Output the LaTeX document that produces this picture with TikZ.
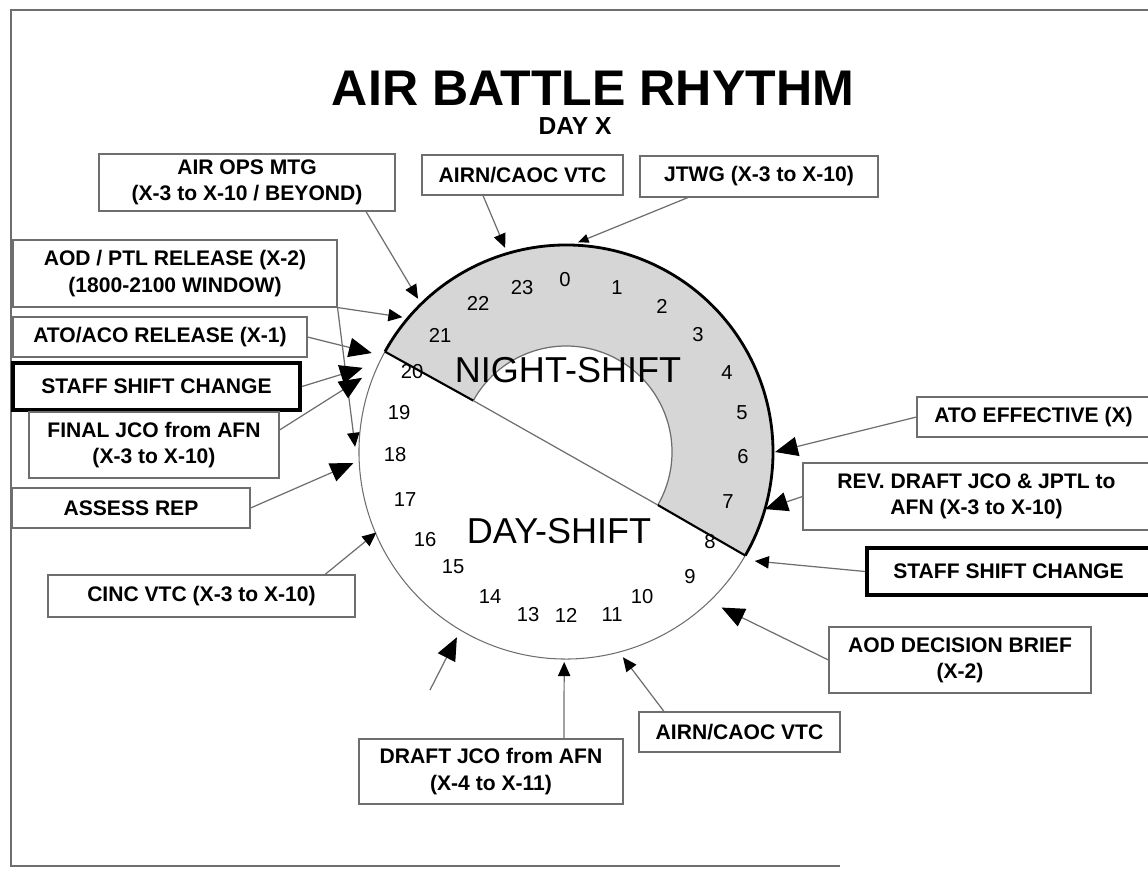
\documentclass[tikz,border=0pt]{standalone}
\usepackage{fontspec}
\setmainfont{Liberation Sans}
\usepackage{tikz}
\usetikzlibrary{arrows.meta, positioning, calc}
\definecolor{nightgray}{RGB}{214, 214, 214}
\definecolor{rimgray}{RGB}{110, 110, 110}

\tikzset{
    evbox/.style={draw=rimgray, line width=0.6pt, fill=white, align=center, inner sep=2pt,
        font=\bfseries\fontsize{12}{15}\selectfont},
    shiftbox/.style={evbox, draw=black, line width=2.2pt},
    link/.style={draw=rimgray, line width=0.7pt},
    bighead/.style={link, -{Triangle[length=13pt, width=11pt, color=black]}},
    midhead/.style={link, -{Triangle[length=8pt, width=7pt, color=black]}},
    smallhead/.style={link, -{Triangle[length=6pt, width=5pt, color=black]}},
    hour/.style={font=\fontsize{11.5}{13}\selectfont},
    shiftlabel/.style={font=\fontsize{20.5}{24}\selectfont}
}

\begin{document}
\begin{tikzpicture}[x=0.2mm, y=-0.2mm]
    \useasboundingbox (0,0) rectangle (1148,871);
    \clip (0,0) rectangle (1148,871);

    % page frame
    \draw[rimgray, line width=0.7pt] (1148,10) -- (11,10) -- (11,866) -- (840,866);

    % heading
    \node (title) at (593,88) {\bfseries\fontsize{28.5}{32}\selectfont AIR BATTLE RHYTHM};
    \node (dayx) at (575,126) {\bfseries\fontsize{14}{16}\selectfont DAY X};

    % 24 hour dial, polar coordinates (angle:radius) around its centre
    \begin{scope}[shift={(566,452)}, x=0.2mm, y=0.2mm]
        \fill[nightgray] (151:207) arc[start angle=151, end angle=-30, radius=207]
            -- (-30:106) arc[start angle=-30, end angle=151, radius=106] -- cycle;
        \draw[rimgray, line width=0.6pt] (151:207) arc[start angle=151, end angle=330, radius=207];
        \draw[black, line width=1.6pt] (151:207) arc[start angle=151, end angle=-30, radius=207];
        \draw[rimgray, line width=0.7pt] (151:106) arc[start angle=151, end angle=-30, radius=106];
        \draw[black, line width=1.2pt] (151:207) -- (151:106);
        \draw[black, line width=1.2pt] (-30:106) -- (-30:207);
        \draw[rimgray, line width=0.7pt] (151:106) -- (-30:106);

        % where the pointers hit the dial
        \coordinate (tOps) at (134:213);
        \coordinate (tVtcTop) at (106.6:213);
        \coordinate (tJtwg) at (86.7:210);
        \coordinate (tPtlA) at (140.5:212);
        \coordinate (tPtlB) at (178.6:211);
        \coordinate (tAtoAco) at (153:218);
        \coordinate (tShiftL) at (157.5:220);
        \coordinate (tFinal) at (160:217);
        \coordinate (tAssess) at (183:213);
        \coordinate (tCinc) at (203:206);
        \coordinate (tLoose) at (239.5:215);
        \coordinate (tDraft) at (269.5:210);
        \coordinate (tVtcBot) at (285.5:213);
        \coordinate (tAodDec) at (315:220);
        \coordinate (tShiftR) at (330:218);
        \coordinate (tRev) at (344:207);
        \coordinate (tAtoEff) at (0:209);
    \end{scope}

    % hours
    \foreach \h/\hx/\hy in {0/565/280, 1/617/288, 2/662/306, 3/698/335, 4/727/373, 5/742/413,
        6/743/457, 7/728/502, 8/710/542, 9/690/577, 10/642/597, 11/612/615, 12/566/615,
        13/528/615, 14/490/597, 15/453/567, 16/425/540, 17/405/500, 18/395/455,
        19/399/413, 20/412/372, 21/440/335, 22/478/303, 23/522/288}
        \node[hour] (h\h) at (\hx,\hy) {\h};

    \node[shiftlabel] (night) at (568,370) {NIGHT-SHIFT};
    \node[shiftlabel] (day) at (559,531) {DAY-SHIFT};

    % event boxes
    \node[evbox, minimum width=59.2mm, minimum height=11.4mm] (opsmtg) at (247,182.5) {AIR OPS MTG\\(X-3 to X-10 / BEYOND)};
    \node[evbox, minimum width=40.2mm, minimum height=8mm] (vtctop) at (522.5,175) {AIRN/CAOC VTC};
    \node[evbox, minimum width=47.6mm, minimum height=8.2mm] (jtwg) at (759,176.5) {JTWG (X-3 to X-10)};
    \node[evbox, minimum width=64.8mm, minimum height=13.4mm] (aodptl) at (175,273.5) {AOD / PTL RELEASE (X-2)\\(1800-2100 WINDOW)};
    \node[evbox, minimum width=58.8mm, minimum height=8mm] (atoaco) at (160,337) {ATO/ACO RELEASE (X-1)};
    \node[shiftbox, minimum width=57.4mm, minimum height=9.4mm] (shiftL) at (156.5,386.5) {STAFF SHIFT CHANGE};
    \node[evbox, minimum width=50mm, minimum height=13.2mm] (finaljco) at (154,445) {FINAL JCO from AFN\\(X-3 to X-10)};
    \node[evbox, minimum width=47.6mm, minimum height=8mm] (assess) at (131,508) {ASSESS REP};
    \node[evbox, minimum width=61.4mm, minimum height=8.4mm] (cinc) at (201.5,596) {CINC VTC (X-3 to X-10)};
    \node[evbox, minimum width=46.6mm, minimum height=8mm] (atoeff) at (1033.5,417) {ATO EFFECTIVE (X)};
    \node[evbox, minimum width=69.4mm, minimum height=13.4mm] (revdraft) at (976.5,496.5) {REV. DRAFT JCO \& JPTL to\\AFN (X-3 to X-10)};
    \node[shiftbox, minimum width=56.6mm, minimum height=9.4mm] (shiftR) at (1008.5,571.5) {STAFF SHIFT CHANGE};
    \node[evbox, minimum width=52.4mm, minimum height=13.2mm] (aoddec) at (960,660) {AOD DECISION BRIEF\\(X-2)};
    \node[evbox, minimum width=40.2mm, minimum height=8mm] (vtcbot) at (739.5,732) {AIRN/CAOC VTC};
    \node[evbox, minimum width=52.8mm, minimum height=13mm] (draftjco) at (491,771.5) {DRAFT JCO from AFN\\(X-4 to X-11)};
    \coordinate (loose) at (430,690);

    % pointers
    \draw[midhead] ([xshift=23.8mm]opsmtg.south) -- (tOps);
    \draw[midhead] ([xshift=-7.9mm]vtctop.south) -- (tVtcTop);
    \draw[smallhead] ([xshift=-14.2mm]jtwg.south) -- (tJtwg);
    \draw[midhead] (aodptl.south east) -- (tPtlA);
    \draw[midhead] (aodptl.south east) -- (tPtlB);
    \draw[bighead] (atoaco.east) -- (tAtoAco);
    \draw[bighead] (shiftL.east) -- (tShiftL);
    \draw[bighead] ([yshift=3mm]finaljco.east) -- (tFinal);
    \draw[bighead] (assess.east) -- (tAssess);
    \draw[midhead] ([xshift=24.7mm]cinc.north) -- (tCinc);
    \draw[bighead] (loose) -- (tLoose);
    \draw[midhead] ([xshift=14.6mm]draftjco.north) -- (tDraft);
    \draw[midhead] ([xshift=-15.1mm]vtcbot.north) -- (tVtcBot);
    \draw[bighead] (aoddec.west) -- (tAodDec);
    \draw[midhead] (shiftR.west) -- (tShiftR);
    \draw[bighead] (revdraft.west) -- (tRev);
    \draw[bighead] (atoeff.west) -- (tAtoEff);
\end{tikzpicture}
\end{document}
